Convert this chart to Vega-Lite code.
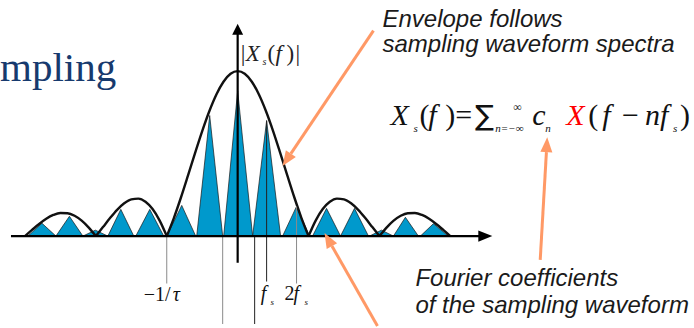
{
  "$schema": "https://vega.github.io/schema/vega-lite/v6.json",
  "width": 694,
  "height": 328,
  "autosize": {"type": "fit", "contains": "padding"},
  "padding": 0,
  "background": "white",
  "config": {"view": {"stroke": null}},
  "datasets": {
    "pulses": [
      {"n": -7, "f": -7.394, "a": 0}, {"n": -7, "f": -6.901, "a": 0.078}, {"n": -7, "f": -6.408, "a": 0},
      {"n": -6, "f": -6.408, "a": 0}, {"n": -6, "f": -5.933, "a": 0.12}, {"n": -6, "f": -5.458, "a": 0},
      {"n": -5, "f": -5.458, "a": 0}, {"n": -5, "f": -5.018, "a": 0.036}, {"n": -5, "f": -4.577, "a": 0},
      {"n": -4, "f": -4.577, "a": 0}, {"n": -4, "f": -4.12, "a": 0.162}, {"n": -4, "f": -3.662, "a": 0},
      {"n": -3, "f": -3.592, "a": 0}, {"n": -3, "f": -3.099, "a": 0.162}, {"n": -3, "f": -2.606, "a": 0},
      {"n": -2, "f": -2.5, "a": 0}, {"n": -2, "f": -1.972, "a": 0.186}, {"n": -2, "f": -1.479, "a": 0},
      {"n": -1, "f": -1.444, "a": 0}, {"n": -1, "f": -0.986, "a": 0.731}, {"n": -1, "f": -0.528, "a": 0},
      {"n": 0, "f": -0.493, "a": 0}, {"n": 0, "f": 0, "a": 0.88}, {"n": 0, "f": 0.528, "a": 0},
      {"n": 1, "f": 0.528, "a": 0}, {"n": 1, "f": 1.021, "a": 0.7}, {"n": 1, "f": 1.514, "a": 0},
      {"n": 2, "f": 1.585, "a": 0}, {"n": 2, "f": 2.077, "a": 0.18}, {"n": 2, "f": 2.535, "a": 0},
      {"n": 3, "f": 2.641, "a": 0}, {"n": 3, "f": 3.134, "a": 0.168}, {"n": 3, "f": 3.627, "a": 0},
      {"n": 4, "f": 3.627, "a": 0}, {"n": 4, "f": 4.12, "a": 0.168}, {"n": 4, "f": 4.613, "a": 0},
      {"n": 5, "f": 4.648, "a": 0}, {"n": 5, "f": 5.07, "a": 0.036}, {"n": 5, "f": 5.493, "a": 0},
      {"n": 6, "f": 5.493, "a": 0}, {"n": 6, "f": 5.915, "a": 0.114}, {"n": 6, "f": 6.373, "a": 0},
      {"n": 7, "f": 6.444, "a": 0}, {"n": 7, "f": 6.901, "a": 0.075}, {"n": 7, "f": 7.43, "a": 0}
    ],
    "envelope": [
      {"lobe": -2, "f": -7.5, "a": 0}, {"lobe": -2, "f": -7.25, "a": 0.0373}, {"lobe": -2, "f": -7.0, "a": 0.0735},
      {"lobe": -2, "f": -6.75, "a": 0.1049}, {"lobe": -2, "f": -6.5, "a": 0.128}, {"lobe": -2, "f": -6.25, "a": 0.14},
      {"lobe": -2, "f": -6.0, "a": 0.1387}, {"lobe": -2, "f": -5.75, "a": 0.1232}, {"lobe": -2, "f": -5.5, "a": 0.0935},
      {"lobe": -2, "f": -5.25, "a": 0.0515}, {"lobe": -2, "f": -5.0, "a": 0},
      {"lobe": -1, "f": -5.0, "a": 0}, {"lobe": -1, "f": -4.75, "a": 0.0544}, {"lobe": -1, "f": -4.5, "a": 0.1091},
      {"lobe": -1, "f": -4.25, "a": 0.1591}, {"lobe": -1, "f": -4.0, "a": 0.1987}, {"lobe": -1, "f": -3.75, "a": 0.2228},
      {"lobe": -1, "f": -3.5, "a": 0.227}, {"lobe": -1, "f": -3.25, "a": 0.208}, {"lobe": -1, "f": -3.0, "a": 0.1637},
      {"lobe": -1, "f": -2.75, "a": 0.0939}, {"lobe": -1, "f": -2.5, "a": 0},
      {"lobe": 0, "f": -2.5, "a": 0}, {"lobe": 0, "f": -2.25, "a": 0.1093}, {"lobe": 0, "f": -2.0, "a": 0.2339},
      {"lobe": 0, "f": -1.75, "a": 0.3679}, {"lobe": 0, "f": -1.5, "a": 0.5046}, {"lobe": 0, "f": -1.25, "a": 0.6366},
      {"lobe": 0, "f": -1.0, "a": 0.7568}, {"lobe": 0, "f": -0.75, "a": 0.8584}, {"lobe": 0, "f": -0.5, "a": 0.9355},
      {"lobe": 0, "f": -0.25, "a": 0.9836}, {"lobe": 0, "f": 0, "a": 1},
      {"lobe": 0, "f": 0.25, "a": 0.9836}, {"lobe": 0, "f": 0.5, "a": 0.9355}, {"lobe": 0, "f": 0.75, "a": 0.8584},
      {"lobe": 0, "f": 1.0, "a": 0.7568}, {"lobe": 0, "f": 1.25, "a": 0.6366}, {"lobe": 0, "f": 1.5, "a": 0.5046},
      {"lobe": 0, "f": 1.75, "a": 0.3679}, {"lobe": 0, "f": 2.0, "a": 0.2339}, {"lobe": 0, "f": 2.25, "a": 0.1093},
      {"lobe": 0, "f": 2.5, "a": 0},
      {"lobe": 1, "f": 2.5, "a": 0}, {"lobe": 1, "f": 2.75, "a": 0.0939}, {"lobe": 1, "f": 3.0, "a": 0.1637},
      {"lobe": 1, "f": 3.25, "a": 0.208}, {"lobe": 1, "f": 3.5, "a": 0.227}, {"lobe": 1, "f": 3.75, "a": 0.2228},
      {"lobe": 1, "f": 4.0, "a": 0.1987}, {"lobe": 1, "f": 4.25, "a": 0.1591}, {"lobe": 1, "f": 4.5, "a": 0.1091},
      {"lobe": 1, "f": 4.75, "a": 0.0544}, {"lobe": 1, "f": 5.0, "a": 0},
      {"lobe": 2, "f": 5.0, "a": 0}, {"lobe": 2, "f": 5.25, "a": 0.0515}, {"lobe": 2, "f": 5.5, "a": 0.0935},
      {"lobe": 2, "f": 5.75, "a": 0.1232}, {"lobe": 2, "f": 6.0, "a": 0.1387}, {"lobe": 2, "f": 6.25, "a": 0.14},
      {"lobe": 2, "f": 6.5, "a": 0.128}, {"lobe": 2, "f": 6.75, "a": 0.1049}, {"lobe": 2, "f": 7.0, "a": 0.0735},
      {"lobe": 2, "f": 7.25, "a": 0.0373}, {"lobe": 2, "f": 7.5, "a": 0}
    ],
    "guides": [
      {"kind": "gray", "mark": "-1/tau", "f": -2.5, "a": 0, "a2": -0.2874},
      {"kind": "gray", "mark": "pulse edge left", "f": -0.528, "a": 0, "a2": -0.5329},
      {"kind": "gray", "mark": "2fs", "f": 2.077, "a": 0.18, "a2": -0.2874},
      {"kind": "dark", "mark": "pulse edge right", "f": 0.599, "a": 0, "a2": -0.5329},
      {"kind": "dark", "mark": "fs", "f": 1.021, "a": 0.7, "a2": -0.2754}
    ],
    "axes": [
      {"part": "frequency", "f": -7.993, "a": 0, "f2": 8.556, "a2": 0},
      {"part": "magnitude", "f": 0, "a": -0.1617, "f2": 0, "a2": 1.2335}
    ],
    "heads": [
      {"part": "frequency", "f": 8.732, "a": 0},
      {"part": "magnitude", "f": 0, "a": 1.2545},
      {"part": "envelope-note", "f": 1.729, "a": 0.4623},
      {"part": "coef-note", "f": 10.901, "a": 0.5539},
      {"part": "pulse-note", "f": 3.194, "a": -0.021}
    ],
    "pointers": [
      {"part": "envelope-note", "f": 4.789, "a": 1.2455, "f2": 1.877, "a2": 0.5},
      {"part": "coef-note", "f": 10.669, "a": -0.1437, "f2": 10.887, "a2": 0.509},
      {"part": "pulse-note", "f": 4.93, "a": -0.5449, "f2": 3.324, "a2": -0.0599}
    ],
    "labels": [
      {"group": "title", "text": "mpling", "f": -8.38, "a": 0.9401},
      {"group": "note", "text": "Envelope follows", "f": 5.106, "a": 1.2695},
      {"group": "note", "text": "sampling waveform spectra", "f": 5.106, "a": 1.1138},
      {"group": "note", "text": "Fourier coefficients", "f": 6.268, "a": -0.3054},
      {"group": "note", "text": "of the sampling waveform", "f": 6.268, "a": -0.4671},
      {"group": "tickUp", "text": "−1/", "f": -3.31, "a": -0.3952},
      {"group": "tickItalic", "text": "τ", "f": -2.29, "a": -0.3952},
      {"group": "tickUp", "text": "2", "f": 1.655, "a": -0.3892},
      {"group": "tickItalic", "text": "f", "f": 0.81, "a": -0.3892},
      {"group": "tickItalic", "text": "f", "f": 1.972, "a": -0.3892},
      {"group": "tickSub", "text": "s", "f": 1.162, "a": -0.4192},
      {"group": "tickSub", "text": "s", "f": 2.359, "a": -0.4192},
      {"group": "magUp", "text": "|", "f": 0.106, "a": 1.0599},
      {"group": "magUp", "text": "(", "f": 1.056, "a": 1.0599},
      {"group": "magUp", "text": ")", "f": 1.725, "a": 1.0599},
      {"group": "magUp", "text": "|", "f": 2.042, "a": 1.0599},
      {"group": "magItalic", "text": "X", "f": 0.282, "a": 1.0599},
      {"group": "magItalic", "text": "f", "f": 1.338, "a": 1.0599},
      {"group": "magSub", "text": "s", "f": 0.88, "a": 1.0359},
      {"group": "eqItalic", "text": "X", "f": 5.387, "a": 0.6707},
      {"group": "eqItalic", "text": "f", "f": 6.725, "a": 0.6707},
      {"group": "eqItalic", "text": "c", "f": 10.387, "a": 0.6707},
      {"group": "eqItalic", "text": "f", "f": 12.852, "a": 0.6707},
      {"group": "eqItalic", "text": "nf", "f": 14.366, "a": 0.6707},
      {"group": "eqRed", "text": "X", "f": 11.585, "a": 0.6707},
      {"group": "eqUp", "text": "(", "f": 6.408, "a": 0.6707},
      {"group": "eqUp", "text": ")", "f": 7.324, "a": 0.6707},
      {"group": "eqUp", "text": "=", "f": 7.676, "a": 0.6707},
      {"group": "eqUp", "text": "(", "f": 12.359, "a": 0.6707},
      {"group": "eqUp", "text": "−", "f": 13.556, "a": 0.6707},
      {"group": "eqUp", "text": ")", "f": 15.599, "a": 0.6707},
      {"group": "eqSum", "text": "∑", "f": 8.38, "a": 0.6707},
      {"group": "eqSub", "text": "s", "f": 6.197, "a": 0.6287},
      {"group": "eqSub", "text": "n=−∞", "f": 9.085, "a": 0.6287},
      {"group": "eqSub", "text": "n", "f": 10.845, "a": 0.6287},
      {"group": "eqSub", "text": "s", "f": 15.352, "a": 0.6287},
      {"group": "eqSup", "text": "∞", "f": 9.718, "a": 0.7605}
    ]
  },
  "encoding": {
    "x": {"field": "f", "type": "quantitative", "scale": {"domain": [-8.3451, 16.0915], "nice": false, "zero": false}, "axis": null},
    "y": {"field": "a", "type": "quantitative", "scale": {"domain": [-0.5329, 1.4311], "nice": false, "zero": false}, "axis": null}
  },
  "layer": [
    {
      "data": {"name": "pulses"},
      "mark": {"type": "area", "fill": "#0099cc", "fillOpacity": 1, "opacity": 1, "stroke": "#1a1a1a", "strokeWidth": 0.7, "interpolate": "linear"},
      "encoding": {"y2": {"datum": 0}, "detail": {"field": "n", "type": "nominal"}}
    },
    {
      "data": {"name": "envelope"},
      "mark": {"type": "line", "color": "#111111", "strokeWidth": 2.4, "interpolate": "monotone"},
      "encoding": {"detail": {"field": "lobe", "type": "nominal"}}
    },
    {
      "data": {"name": "guides"},
      "transform": [{"filter": "datum.kind == 'gray'"}],
      "mark": {"type": "rule", "color": "#8a8a8a", "strokeWidth": 1},
      "encoding": {"y2": {"field": "a2"}}
    },
    {
      "data": {"name": "guides"},
      "transform": [{"filter": "datum.kind == 'dark'"}],
      "mark": {"type": "rule", "color": "#222222", "strokeWidth": 1},
      "encoding": {"y2": {"field": "a2"}}
    },
    {
      "data": {"name": "axes"},
      "mark": {"type": "rule", "color": "#000000", "strokeWidth": 2.2},
      "encoding": {"x2": {"field": "f2"}, "y2": {"field": "a2"}}
    },
    {
      "data": {"name": "heads"},
      "transform": [{"filter": "datum.part == 'frequency'"}],
      "mark": {"type": "point", "shape": "M1,0L-1,-0.8L-1,0.8Z", "size": 196, "filled": true, "color": "#000000", "opacity": 1, "strokeWidth": 0}
    },
    {
      "data": {"name": "heads"},
      "transform": [{"filter": "datum.part == 'magnitude'"}],
      "mark": {"type": "point", "shape": "M0,-1L1,1L-1,1Z", "size": 121, "filled": true, "color": "#000000", "opacity": 1, "strokeWidth": 0}
    },
    {
      "data": {"name": "labels"},
      "transform": [{"filter": "datum.group == 'title'"}],
      "mark": {"type": "text", "font": "Liberation Serif", "fontSize": 41, "color": "#173a6e", "align": "left", "baseline": "alphabetic"},
      "encoding": {"text": {"field": "text"}}
    },
    {
      "data": {"name": "labels"},
      "transform": [{"filter": "datum.group == 'note'"}],
      "mark": {"type": "text", "font": "Liberation Sans", "fontSize": 24, "fontStyle": "italic", "color": "#1a1a1a", "align": "left", "baseline": "alphabetic"},
      "encoding": {"text": {"field": "text"}}
    },
    {
      "data": {"name": "labels"},
      "transform": [{"filter": "datum.group == 'tickUp'"}],
      "mark": {"type": "text", "font": "Liberation Serif", "fontSize": 20, "color": "#111111", "align": "left", "baseline": "alphabetic"},
      "encoding": {"text": {"field": "text"}}
    },
    {
      "data": {"name": "labels"},
      "transform": [{"filter": "datum.group == 'tickItalic'"}],
      "mark": {"type": "text", "font": "Liberation Serif", "fontSize": 20, "fontStyle": "italic", "color": "#111111", "align": "left", "baseline": "alphabetic"},
      "encoding": {"text": {"field": "text"}}
    },
    {
      "data": {"name": "labels"},
      "transform": [{"filter": "datum.group == 'tickSub'"}],
      "mark": {"type": "text", "font": "Liberation Serif", "fontSize": 9, "fontStyle": "italic", "color": "#111111", "align": "left", "baseline": "alphabetic"},
      "encoding": {"text": {"field": "text"}}
    },
    {
      "data": {"name": "labels"},
      "transform": [{"filter": "datum.group == 'magUp'"}],
      "mark": {"type": "text", "font": "Liberation Serif", "fontSize": 23, "color": "#222222", "align": "left", "baseline": "alphabetic"},
      "encoding": {"text": {"field": "text"}}
    },
    {
      "data": {"name": "labels"},
      "transform": [{"filter": "datum.group == 'magItalic'"}],
      "mark": {"type": "text", "font": "Liberation Serif", "fontSize": 23, "fontStyle": "italic", "color": "#222222", "align": "left", "baseline": "alphabetic"},
      "encoding": {"text": {"field": "text"}}
    },
    {
      "data": {"name": "labels"},
      "transform": [{"filter": "datum.group == 'magSub'"}],
      "mark": {"type": "text", "font": "Liberation Serif", "fontSize": 10, "fontStyle": "italic", "color": "#222222", "align": "left", "baseline": "alphabetic"},
      "encoding": {"text": {"field": "text"}}
    },
    {
      "data": {"name": "labels"},
      "transform": [{"filter": "datum.group == 'eqItalic'"}],
      "mark": {"type": "text", "font": "Liberation Serif", "fontSize": 30, "fontStyle": "italic", "color": "#111111", "align": "left", "baseline": "alphabetic"},
      "encoding": {"text": {"field": "text"}}
    },
    {
      "data": {"name": "labels"},
      "transform": [{"filter": "datum.group == 'eqRed'"}],
      "mark": {"type": "text", "font": "Liberation Serif", "fontSize": 30, "fontStyle": "italic", "color": "#ff0000", "align": "left", "baseline": "alphabetic"},
      "encoding": {"text": {"field": "text"}}
    },
    {
      "data": {"name": "labels"},
      "transform": [{"filter": "datum.group == 'eqUp'"}],
      "mark": {"type": "text", "font": "Liberation Serif", "fontSize": 30, "color": "#111111", "align": "left", "baseline": "alphabetic"},
      "encoding": {"text": {"field": "text"}}
    },
    {
      "data": {"name": "labels"},
      "transform": [{"filter": "datum.group == 'eqSum'"}],
      "mark": {"type": "text", "font": "DejaVu Sans", "fontSize": 28, "color": "#111111", "align": "left", "baseline": "alphabetic"},
      "encoding": {"text": {"field": "text"}}
    },
    {
      "data": {"name": "labels"},
      "transform": [{"filter": "datum.group == 'eqSub'"}],
      "mark": {"type": "text", "font": "Liberation Serif", "fontSize": 11, "fontStyle": "italic", "color": "#111111", "align": "left", "baseline": "alphabetic"},
      "encoding": {"text": {"field": "text"}}
    },
    {
      "data": {"name": "labels"},
      "transform": [{"filter": "datum.group == 'eqSup'"}],
      "mark": {"type": "text", "font": "Liberation Serif", "fontSize": 12, "color": "#111111", "align": "left", "baseline": "alphabetic"},
      "encoding": {"text": {"field": "text"}}
    },
    {
      "data": {"name": "pointers"},
      "mark": {"type": "rule", "color": "#ff9966", "strokeWidth": 3},
      "encoding": {"x2": {"field": "f2"}, "y2": {"field": "a2"}}
    },
    {
      "data": {"name": "heads"},
      "transform": [{"filter": "datum.part == 'envelope-note'"}],
      "mark": {"type": "point", "shape": "M0,-1L0.8,1L-0.8,1Z", "size": 225, "angle": 213.6, "filled": true, "color": "#ff9966", "opacity": 1, "strokeWidth": 0}
    },
    {
      "data": {"name": "heads"},
      "transform": [{"filter": "datum.part == 'coef-note'"}],
      "mark": {"type": "point", "shape": "M0,-1L0.8,1L-0.8,1Z", "size": 225, "angle": 3.2, "filled": true, "color": "#ff9966", "opacity": 1, "strokeWidth": 0}
    },
    {
      "data": {"name": "heads"},
      "transform": [{"filter": "datum.part == 'pulse-note'"}],
      "mark": {"type": "point", "shape": "M0,-1L0.8,1L-0.8,1Z", "size": 225, "angle": 330.6, "filled": true, "color": "#ff9966", "opacity": 1, "strokeWidth": 0}
    }
  ]
}
